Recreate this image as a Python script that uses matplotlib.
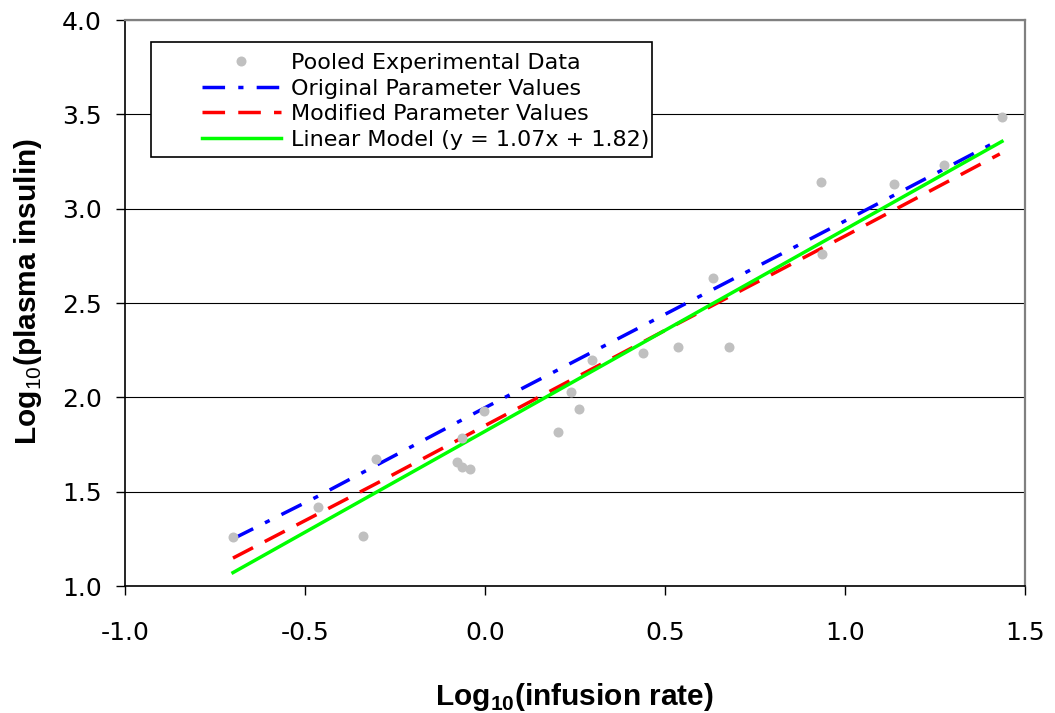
import numpy as np
import matplotlib
matplotlib.use("Agg")
import matplotlib.pyplot as plt
from matplotlib.patches import Rectangle

# pooled measurements (log10 infusion rate vs log10 plasma insulin)
log_rate = [-0.700, -0.464, -0.339, -0.303, -0.078, -0.064, -0.042, -0.064,
            -0.003, 0.203, 0.239, 0.261, 0.297, 0.439, 0.536, 0.678,
            0.633, 0.933, 0.936, 1.136, 1.275, 1.436]
log_insulin = [1.260, 1.419, 1.265, 1.673, 1.657, 1.631, 1.620, 1.784,
               1.927, 1.816, 2.028, 1.938, 2.198, 2.235, 2.267, 2.267,
               2.632, 3.141, 2.759, 3.130, 3.231, 3.485]

# model curves
orig_x = [-0.70, -0.47, 0.0, 0.5, 1.0, 1.41]
orig_y = [1.25, 1.47, 1.945, 2.44, 2.935, 3.345]
mod_x = [-0.70, -0.30, 0.0, 0.5, 1.0, 1.43]
mod_y = [1.148, 1.545, 1.85, 2.355, 2.855, 3.29]

# linear fit
lin_slope, lin_icpt = 1.07, 1.82
lin_span = [-0.70, 1.436]

labels = ["Pooled Experimental Data", "Original Parameter Values",
          "Modified Parameter Values",
          "Linear Model (y = %.2fx + %.2f)" % (lin_slope, lin_icpt)]

plt.rcParams["mathtext.fontset"] = "custom"
plt.rcParams["mathtext.rm"] = "Liberation Sans"
plt.rcParams["mathtext.bf"] = "Liberation Sans:bold"

W, H = 1055, 713
fig = plt.figure(figsize=(W / 100, H / 100), dpi=100)
ax = fig.add_axes([125 / W, 1 - 586 / H, 900 / W, 566 / H])

h_orig, = ax.plot(orig_x, orig_y, color="#0000ff", lw=2.5,
                  dashes=(6.5, 3.8, 1.5, 3.8))
h_mod, = ax.plot(mod_x, mod_y, color="#ff0000", lw=2.5, dashes=(6.5, 3.8))
lx = np.array(lin_span)
h_lin, = ax.plot(lx, lin_slope * lx + lin_icpt, color="#00ff00", lw=2.5)
h_pts, = ax.plot(log_rate, log_insulin, "o", color="#c0c0c0", ms=7.2,
                 mec="none", zorder=4)

ax.set_xlim(-1.0, 1.5)
ax.set_ylim(1.0, 4.0)
ax.set_xticks(np.arange(-1.0, 1.51, 0.5))
ax.set_yticks(np.arange(1.0, 4.01, 0.5))
ax.xaxis.set_major_formatter(matplotlib.ticker.FormatStrFormatter("%.1f"))
ax.yaxis.set_major_formatter(matplotlib.ticker.FormatStrFormatter("%.1f"))
ax.tick_params(direction="out", length=6.5, width=1, labelsize=18)
ax.tick_params(axis="x", pad=19)
ax.tick_params(axis="y", pad=10)
ax.yaxis.grid(True, color="black", lw=0.8)
ax.set_axisbelow(True)

for s in ("left", "bottom"):
    ax.spines[s].set_linewidth(1.2)
for s in ("top", "right"):
    ax.spines[s].set_color("#808080")
    ax.spines[s].set_linewidth(1.6)

fig.text(574 / W, 1 - 705 / H, r"Log$_{\mathbf{10}}$(infusion rate)",
         ha="center", va="baseline", fontsize=21.5, fontweight="bold",
         family="Liberation Sans")
fig.text(28 / W, 1 - 292 / H, r"Log$_{\mathrm{10}}$(plasma insulin)",
         ha="center", va="center", rotation=90, fontsize=21.5,
         fontweight="bold", family="Liberation Sans")

# legend box drawn separately so the left margin can be wider than the top
box = Rectangle((151 / W, 1 - 157 / H), 501 / W, 115 / H,
                transform=fig.transFigure, facecolor="white",
                edgecolor="black", lw=1.2, zorder=3, clip_on=False)
ax.add_patch(box)
leg = ax.legend([h_pts, h_orig, h_mod, h_lin], labels,
                loc="upper left", bbox_to_anchor=(202 / W, 1 - 53 / H),
                bbox_transform=fig.transFigure, frameon=False,
                fontsize=16, labelspacing=0.25, borderpad=0,
                borderaxespad=0, handlelength=3.55, handletextpad=0.45,
                numpoints=1)
leg.set_zorder(5)

fig.savefig("out.png", dpi=100)
